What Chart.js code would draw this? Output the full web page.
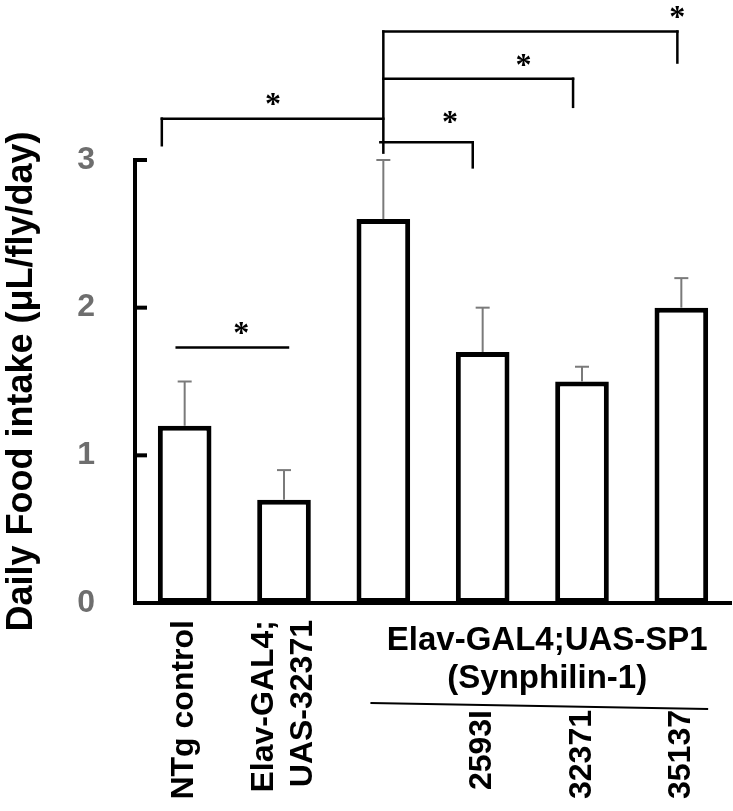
<!DOCTYPE html>
<html>
<head>
<meta charset="utf-8">
<script src="https://cdn.jsdelivr.net/npm/chart.js@4.4.1/dist/chart.umd.min.js"></script>
<style>
  html, body { margin: 0; padding: 0; background: #fff; }
  #wrap { position: relative; width: 733px; height: 811px; }
</style>
</head>
<body>
<div id="wrap"><canvas id="intake-chart"></canvas></div>
<script>
// values
const categories = ['NTg control', ['Elav-GAL4;', 'UAS-32371'], '', '2593I', '32371', '35137'];
const intake = [1.2, 0.7, 2.6, 1.7, 1.5, 2.0];
const intakeErr = [0.3, 0.2, 0.4, 0.3, 0.1, 0.2];
const yTicks = [0, 1, 2, 3];
const labelRow = [0, 0, 0, 1, 1, 1]; // 1 = strain numbers under the SP1 group line

const groupLabel = ['Elav-GAL4;UAS-SP1', '(Synphilin-1)'];
const groupCenter = 3.65;
const groupLine = [1.87, 5.27];

// significance brackets, x in category units, y in data units
const sigBrackets = [
  { x1: -0.23, x2: 2, y: 3.28, drop1: 3.10, drop2: null },
  { x1: 1.97, x2: 2.9, y: 3.12, drop1: null, drop2: 2.95 },
  { x1: 2, x2: 3.91, y: 3.55, drop1: null, drop2: 3.36 },
  { x1: 2, x2: 4.96, y: 3.87, drop1: null, drop2: 3.66 },
  { x1: -0.08, x2: 1.04, y: 1.73, drop1: null, drop2: null }
];
const sigTrunk = { x: 2, y1: 3.05, y2: 3.87 };
const sigStars = [
  { x: 0.89, y: 3.41 },
  { x: 2.67, y: 3.29 },
  { x: 3.41, y: 3.68 },
  { x: 4.96, y: 4.0 },
  { x: 0.57, y: 1.86 }
];

const FONT = "'Liberation Sans', Arial, sans-serif";

const overlay = {
  id: 'overlay',
  afterDatasetsDraw(chart) {
    const { ctx, chartArea, scales: { x, y } } = chart;
    const line = (x1, y1, x2, y2) => {
      ctx.beginPath(); ctx.moveTo(x1, y1); ctx.lineTo(x2, y2); ctx.stroke();
    };
    ctx.save();

    // y ticks point into the plot
    ctx.strokeStyle = '#000';
    ctx.lineWidth = 4;
    yTicks.forEach(v => {
      const py = y.getPixelForValue(v);
      line(chartArea.left, py, chartArea.left + 12, py);
    });

    // error bars (upper only)
    ctx.strokeStyle = '#7a7a7a';
    ctx.lineWidth = 2;
    intake.forEach((v, i) => {
      const px = x.getPixelForValue(i);
      const base = y.getPixelForValue(v);
      const top = y.getPixelForValue(v + intakeErr[i]);
      line(px, base, px, top);
      line(px - 7, top, px + 7, top);
    });

    // brackets
    ctx.strokeStyle = '#000';
    ctx.lineWidth = 2.5;
    ctx.lineCap = 'square';
    sigBrackets.forEach(b => {
      const px1 = x.getPixelForValue(b.x1);
      const px2 = x.getPixelForValue(b.x2);
      const py = y.getPixelForValue(b.y);
      line(px1, py, px2, py);
      if (b.drop1 !== null) line(px1, py, px1, y.getPixelForValue(b.drop1));
      if (b.drop2 !== null) line(px2, py, px2, y.getPixelForValue(b.drop2));
    });
    const tx = x.getPixelForValue(sigTrunk.x);
    line(tx, y.getPixelForValue(sigTrunk.y1), tx, y.getPixelForValue(sigTrunk.y2));

    ctx.fillStyle = '#000';
    ctx.font = "bold 32px 'Liberation Serif', 'Times New Roman', serif";
    ctx.textAlign = 'center';
    ctx.textBaseline = 'alphabetic';
    sigStars.forEach(s => {
      const m = ctx.measureText('*');
      const cy = y.getPixelForValue(s.y);
      ctx.fillText('*', x.getPixelForValue(s.x), cy + (m.actualBoundingBoxAscent - m.actualBoundingBoxDescent) / 2);
    });

    // category labels, rotated
    ctx.font = 'bold 32px ' + FONT;
    ctx.textAlign = 'right';
    ctx.textBaseline = 'middle';
    categories.forEach((c, i) => {
      const lines = Array.isArray(c) ? c : [c];
      if (!lines[0]) return;
      const top = chartArea.bottom + (labelRow[i] ? 107 : 17);
      ctx.save();
      ctx.translate(x.getPixelForValue(i), top);
      ctx.rotate(-Math.PI / 2);
      lines.forEach((t, k) => ctx.fillText(t, 0, (k - (lines.length - 1) / 2) * 39));
      ctx.restore();
    });

    // group caption and its underline
    ctx.font = 'bold 33px ' + FONT;
    ctx.textAlign = 'center';
    const gx = x.getPixelForValue(groupCenter);
    ctx.fillText(groupLabel[0], gx, chartArea.bottom + 38);
    ctx.fillText(groupLabel[1], gx, chartArea.bottom + 76);
    ctx.lineWidth = 2;
    ctx.lineCap = 'butt';
    line(x.getPixelForValue(groupLine[0]), chartArea.bottom + 100,
         x.getPixelForValue(groupLine[1]), chartArea.bottom + 106);

    ctx.restore();
  }
};

new Chart(document.getElementById('intake-chart'), {
  type: 'bar',
  data: {
    labels: categories,
    datasets: [{
      data: intake,
      backgroundColor: '#ffffff',
      borderColor: '#000000',
      borderWidth: 5,
      borderSkipped: false,
      barPercentage: 0.54,
      categoryPercentage: 1
    }]
  },
  options: {
    responsive: true,
    maintainAspectRatio: false,
    animation: false,
    layout: { padding: { top: 160, right: 2, left: 0, bottom: 0 } },
    plugins: { legend: { display: false }, tooltip: { enabled: false } },
    scales: {
      x: {
        grid: { display: false, drawTicks: false },
        border: { display: true, color: '#000', width: 4 },
        ticks: { display: false },
        afterFit: s => { s.height = 208; }
      },
      y: {
        min: 0,
        max: 3,
        grid: { display: false, drawTicks: false },
        border: { display: true, color: '#000', width: 4 },
        afterBuildTicks: s => { s.ticks = yTicks.map(v => ({ value: v })); },
        ticks: {
          padding: 40,
          color: '#6e6e6e',
          font: { family: FONT, size: 32, weight: 'bold' }
        },
        title: {
          display: true,
          text: 'Daily Food intake (\u03bcL/fly/day)',
          color: '#000',
          padding: 0,
          font: { family: FONT, size: 36, weight: 'bold' }
        },
        afterFit: s => { s.width = 135; }
      }
    }
  },
  plugins: [overlay]
});
</script>
</body>
</html>
